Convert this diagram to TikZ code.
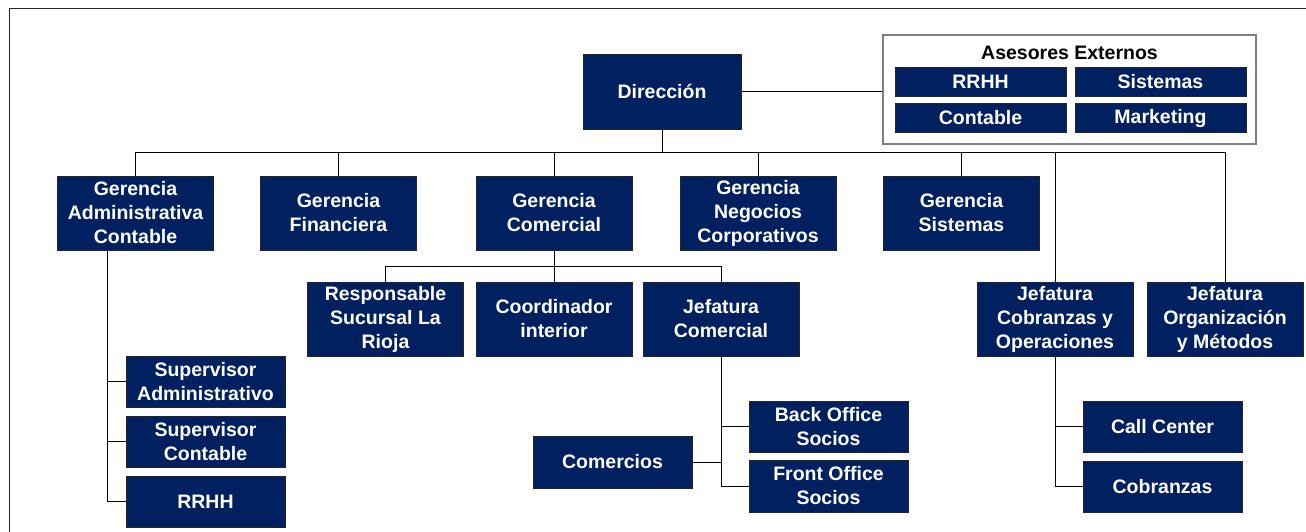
\documentclass[tikz,border=0pt]{standalone}
\usepackage{fontspec}
\setmainfont{Liberation Sans}
\definecolor{navy}{RGB}{0,32,96}
\begin{document}
\begin{tikzpicture}[x=1pt,y=-1pt,
  bx/.style={draw=black!85, line width=0.9pt, fill=navy, text=white,
    font=\fontsize{19.5}{24}\selectfont\bfseries, align=center, inner sep=0pt,
    minimum width=156pt, minimum height=74pt},
  sm/.style={bx, minimum width=159pt, minimum height=51pt},
  ab/.style={bx, minimum width=171pt, minimum height=29pt},
  ln/.style={draw=black, line width=1pt}]
\useasboundingbox (0,0) rectangle (1306,531);
% outer frame
\draw[line width=0.9pt, black!85] (9,540) -- (9,8) -- (1320,8);

% top
\node[bx, minimum width=158pt, minimum height=75pt] (dir) at (662,91.5) {Dirección};
\node[draw=gray, line width=1.2pt, fill=white, minimum width=373pt, minimum height=109pt, inner sep=0pt] (ase) at (1069.5,89.5) {};
\node[font=\fontsize{19.5}{24}\selectfont\bfseries, text=black, inner sep=0pt] (aset) at (1069.5,53) {Asesores Externos};
\node[ab] (arh) at (980.5,81.5) {RRHH};
\node[ab] (asi) at (1160.5,81.5) {Sistemas};
\node[ab] (aco) at (980.5,118) {Contable};
\node[ab] (ama) at (1160.5,118) {Marketing};

% row 2
\node[bx] (gac) at (135.5,213) {Gerencia\\Administrativa\\Contable};
\node[bx] (gf)  at (338.5,213) {Gerencia\\Financiera};
\node[bx] (gc)  at (554,213)   {Gerencia\\Comercial};
\node[bx] (gnc) at (758,213)   {Gerencia\\Negocios\\Corporativos};
\node[bx] (gs)  at (961.5,213) {Gerencia\\Sistemas};

% row 3
\node[bx] (rsl) at (385.5,319) {Responsable\\Sucursal La\\Rioja};
\node[bx] (ci)  at (554,319)   {Coordinador\\interior};
\node[bx] (jc)  at (721,319)   {Jefatura\\Comercial};
\node[bx] (jco) at (1055,319)  {Jefatura\\Cobranzas y\\Operaciones};
\node[bx] (jom) at (1225,319)  {Jefatura\\Organización\\y Métodos};

% row 4
\node[sm] (sa)  at (205.5,381.5) {Supervisor\\Administrativo};
\node[sm] (sc)  at (205.5,441.5) {Supervisor\\Contable};
\node[sm] (rh)  at (205.5,501.5) {RRHH};
\node[sm, minimum height=52pt] (com) at (612.5,462) {Comercios};
\node[sm] (bo)  at (828.5,426.5) {Back Office\\Socios};
\node[sm, minimum height=52pt] (fo)  at (828.5,486) {Front Office\\Socios};
\node[sm] (cc)  at (1162.5,426.5) {Call Center};
\node[sm] (cob) at (1162.5,486.5) {Cobranzas};

% connectors
\coordinate (bus) at (0,152);
\coordinate (sub) at (0,266);
\draw[ln] (dir.east) -- (dir.east -| ase.west);
\draw[ln] (dir.south) -- (dir.south |- bus);
\draw[ln] (gac.north |- bus) -- (jom.north |- bus);
\foreach \n in {gac,gf,gc,gnc,gs,jco,jom}
  \draw[ln] (\n.north) -- (\n.north |- bus);
\draw[ln] (gc.south) -- (gc.south |- sub);
\draw[ln] (rsl.north |- sub) -- (jc.north |- sub);
\foreach \n in {rsl,ci,jc}
  \draw[ln] (\n.north) -- (\n.north |- sub);
% gerencia administrativa
\coordinate (gacd) at ([xshift=50pt]gac.south west);
\draw[ln] (gacd) |- (rh.west);
\draw[ln] (sa.west) -- (sa.west -| gacd);
\draw[ln] (sc.west) -- (sc.west -| gacd);
% jefatura comercial
\draw[ln] (jc.south) |- (fo.west);
\draw[ln] (bo.west) -- (bo.west -| jc.south);
\draw[ln] (com.east) -- (com.east -| jc.south);
% jefatura cobranzas
\draw[ln] (jco.south) |- (cob.west);
\draw[ln] (cc.west) -- (cc.west -| jco.south);
\end{tikzpicture}
\end{document}
